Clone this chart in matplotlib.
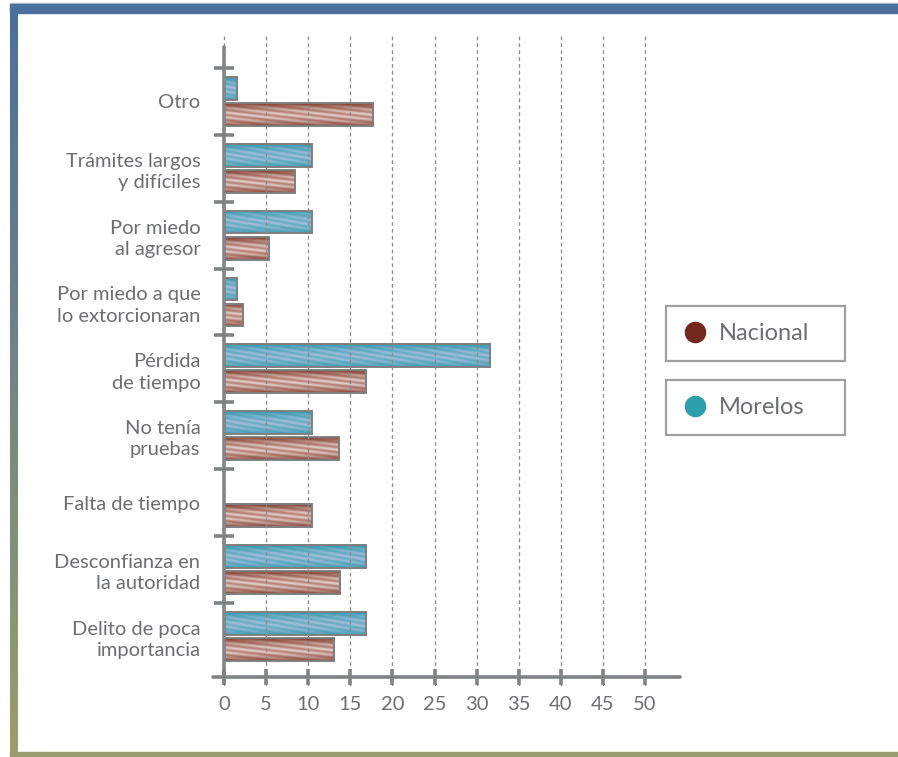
import numpy as np
import matplotlib
matplotlib.use("Agg")
import matplotlib.pyplot as plt
from matplotlib.lines import Line2D
from matplotlib.patches import Rectangle
from matplotlib.colors import to_rgb

# ── Data ─────────────────────────────────────────────────────────────────────
CATEGORIES = ["Delito de poca\nimportancia", "Desconfianza en\nla autoridad",
              "Falta de tiempo", "No tenía\npruebas", "Pérdida\nde tiempo",
              "Por miedo a que\nlo extorcionaran", "Por miedo\nal agresor",
              "Trámites largos\ny difíciles", "Otro"]
NACIONAL = [13.1, 13.8, 10.4, 13.7, 16.9, 2.3, 5.3, 8.4, 17.7]
MORELOS  = [16.9, 16.9, 0.0, 10.4, 31.6, 1.5, 10.4, 10.4, 1.5]
XTICKS   = [0, 5, 10, 15, 20, 25, 30, 35, 40, 45, 50]

# ── Style ────────────────────────────────────────────────────────────────────
GREY_TXT  = "#6d6e71"
GREY_AX   = "#808285"
C_NAC     = "#74291d"
C_MOR     = "#2e9fad"
plt.rcParams["font.family"] = ["Lato", "DejaVu Sans"]

W, H = 898, 757
fig = plt.figure(figsize=(W / 100, H / 100), dpi=100)

# ── Frame decoration ─────────────────────────────────────────────────────────
fig.patches.append(Rectangle((10 / W, 1 - 4.5 / H), 1, 1.2 / H, transform=fig.transFigure,
                             color="#b9c8d9", zorder=0))
fig.patches.append(Rectangle((10 / W, 1 - 12.5 / H), 1, 8 / H, transform=fig.transFigure,
                             color="#4b6f9c", zorder=0))
fig.patches.append(Rectangle((10 / W, 0), 1, 5 / H, transform=fig.transFigure,
                             color="#999c6c", zorder=0))
gax = fig.add_axes([10 / W, 0, 7.5 / W, 1 - 4.5 / H])
top, bot = np.array(to_rgb("#4b6f9c")), np.array(to_rgb("#9b9d6b"))
t = np.linspace(0, 1, 256)[:, None, None]
gax.imshow(top * (1 - t) + bot * t, aspect="auto")
gax.axis("off")

# ── Main axes ────────────────────────────────────────────────────────────────
XL = (-1.5, 54.5)
YL = (-0.75, 9.0)
x0px = 224 + 8.42 * XL[0]
x1px = 224 + 8.42 * XL[1]
ybot = 636.2 - 66.85 * YL[0]
ytop = 636.2 - 66.85 * YL[1]
ax = fig.add_axes([x0px / W, 1 - ybot / H, (x1px - x0px) / W, (ybot - ytop) / H])

y = np.arange(len(CATEGORIES))
off, bh = 0.195, 0.34
bars_n = ax.barh(y - off, NACIONAL, height=bh, facecolor="none",
                 edgecolor="#7f7f7f", linewidth=1.4, zorder=2)
bars_m = ax.barh(y + off, MORELOS, height=bh, facecolor="none",
                 edgecolor="#7f7f7f", linewidth=1.4, zorder=2)


def texture(dark, mid, light, wpx, hpx, slope):
    dark, mid, light = (np.array(to_rgb(c)) for c in (dark, mid, light))
    yy, xx = np.mgrid[0:hpx, 0:wpx].astype(float)
    edge = (np.abs(yy / hpx - 0.5) * 2) ** 2.0
    streak = 0.5 + 0.5 * np.sin(2 * np.pi * (yy + slope * xx) / 5.0)
    m = np.clip(0.7 * streak, 0, 1)[..., None]
    base = light * (1 - m) + mid * m
    e = np.clip(edge * 0.9, 0, 1)[..., None]
    return base * (1 - e) + dark * e


for bars, cols, slope in ((bars_n, ("#7a3628", "#a86a5c", "#e2cbc5"), -0.12),
                          (bars_m, ("#2d98ad", "#55a8bf", "#a0bdd8"), -0.18)):
    for b in bars:
        if b.get_width() <= 0:
            continue
        wpx = max(int(b.get_width() * 8.42), 2)
        img = texture(*cols, wpx, 23, slope)
        im = ax.imshow(img, extent=(b.get_x(), b.get_x() + b.get_width(),
                                    b.get_y(), b.get_y() + b.get_height()),
                       aspect="auto", zorder=1.5, interpolation="bilinear")
        im.set_clip_path(b)

ax.set_xlim(*XL)
ax.set_ylim(*YL)
ax.set_aspect("auto")

# gridlines over the bars
ax.set_axisbelow(False)
ax.grid(axis="x", color="#8a8a8a", linestyle=(0, (3, 2.5)), linewidth=0.9)
ax.grid(axis="y", visible=False)

for s in ("top", "right"):
    ax.spines[s].set_visible(False)
ax.spines["left"].set_position(("data", 0))
ax.spines["left"].set_bounds(-0.70, 8.81)
ax.spines["bottom"].set_position(("data", -0.61))
ax.spines["bottom"].set_bounds(-1.3, 54.2)
for s in ("left", "bottom"):
    ax.spines[s].set_color(GREY_AX)
    ax.spines[s].set_linewidth(2.6)
    ax.spines[s].set_capstyle("round")

ax.set_xticks(XTICKS)
ax.set_xticklabels([str(v) for v in XTICKS])
ax.tick_params(axis="x", direction="inout", length=12, width=2.6, color=GREY_AX,
               labelsize=14.5, labelcolor=GREY_TXT, pad=8)
ax.set_yticks(y)
ax.set_yticklabels(CATEGORIES)
ax.set_yticks(y + 0.5, minor=True)
ax.tick_params(axis="y", which="major", length=0, labelsize=14.5,
               labelcolor=GREY_TXT, pad=17)
ax.tick_params(axis="y", which="minor", direction="inout", length=15, width=2.6,
               color=GREY_AX)
ax.tick_params(axis="x", which="minor", length=0)
for lab in ax.get_yticklabels():
    lab.set_linespacing(1.3)

# ── Legend: two separate boxes ───────────────────────────────────────────────
for i, (name, col) in enumerate((("Nacional", C_NAC), ("Morelos", C_MOR))):
    topy = [306, 380][i]
    h = Line2D([], [], marker="o", linestyle="none", markersize=14.5,
               markerfacecolor=col, markeredgecolor=col)
    leg = fig.legend(handles=[h], labels=[name], loc="center left",
                     bbox_to_anchor=(666 / W, 1 - (topy + 55) / H, 179 / W, 55 / H),
                     mode="expand", borderaxespad=0, frameon=True, fancybox=False,
                     fontsize=17, handlelength=1.0, handletextpad=0.5,
                     borderpad=0.74, labelcolor=GREY_TXT)
    leg.get_frame().set_edgecolor("#888888")
    leg.get_frame().set_linewidth(1.6)

plt.savefig("out.png", dpi=100)
